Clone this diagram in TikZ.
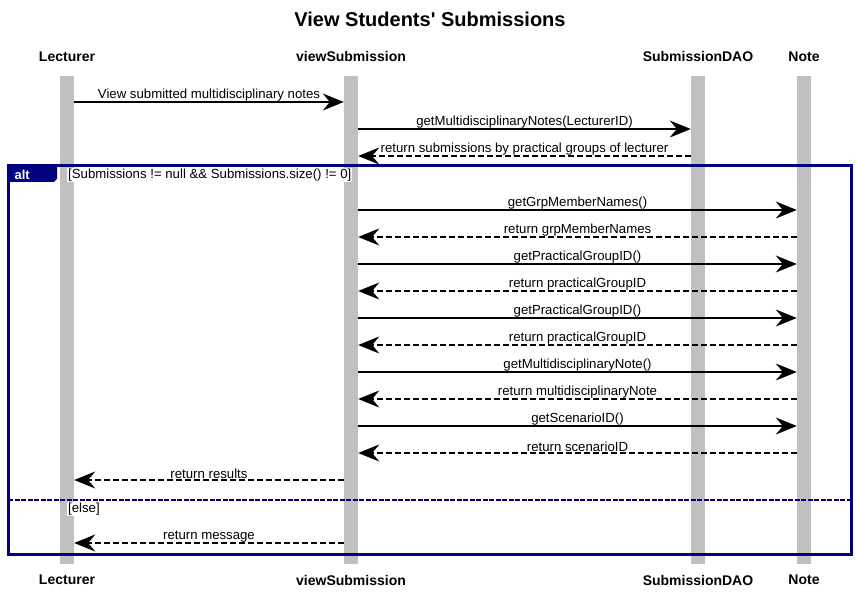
\documentclass[tikz,border=0pt]{standalone}
\usepackage{fontspec}
\setmainfont{Liberation Sans}
\newfontfamily\titlefont{Liberation Sans}
\usetikzlibrary{arrows.meta}

\definecolor{framenavy}{RGB}{0,0,128}
\definecolor{bargray}{RGB}{192,192,192}

\begin{document}
\begin{tikzpicture}[x=1pt,y=-1pt,
    actor/.style={font=\fontsize{14}{16}\selectfont\bfseries},
    lifebar/.style={fill=bargray,draw=none,minimum width=14pt,minimum height=488pt,inner sep=0pt},
    call/.style={line width=1.5pt,-{Stealth[length=21pt,width=17pt,inset=7pt]}},
    reply/.style={call,dash pattern=on 6pt off 3pt},
    msg/.style={font=\fontsize{13.2}{15}\selectfont,inner sep=0.5pt,above},
    guard/.style={font=\fontsize{13.2}{15}\selectfont,fill=white,inner sep=1pt,anchor=west}]
      \useasboundingbox (0,0) rectangle (856,593);

      % Title
      \node[font=\titlefont\fontsize{20}{22}\selectfont\bfseries] (title) at (430,19) {View Students' Submissions};

      % Lifelines
      \node[lifebar] (lecbar) at (67,320) {};
      \node[lifebar] (vsbar) at (351,320) {};
      \node[lifebar] (daobar) at (698,320) {};
      \node[lifebar] (notebar) at (804,320) {};

      % Actors (top and bottom)
      \node[actor] (lec) at (67,57) {Lecturer};
      \node[actor] (vs) at (351,57) {viewSubmission};
      \node[actor] (dao) at (698,57) {SubmissionDAO};
      \node[actor] (note) at (804,57) {Note};
      \node[actor] (lecB) at (67,580) {Lecturer};
      \node[actor] (vsB) at (351,580) {viewSubmission};
      \node[actor] (daoB) at (698,580) {SubmissionDAO};
      \node[actor] (noteB) at (804,580) {Note};

      % Before the alt fragment
      \draw[call] (lecbar.east |- 0,102) -- node[msg] {View submitted multidisciplinary notes} (vsbar.west |- 0,102);
      \draw[call] (vsbar.east |- 0,129) -- node[msg] {getMultidisciplinaryNotes(LecturerID)} (daobar.west |- 0,129);
      \draw[reply] (daobar.west |- 0,156) -- node[msg] {return submissions by practical groups of lecturer} (vsbar.east |- 0,156);

      % Alt fragment
      \draw[framenavy,line width=3pt] (8,166) rectangle (851,554);
      \fill[framenavy] (8,166) -- (57,166) -- (57,179) -- (54,182) -- (8,182) -- cycle;
      \node[font=\fontsize{13}{14}\selectfont\bfseries,text=white,anchor=west] (alt) at (11,175) {alt};
      \node[guard] (cond) at (67,175) {[Submissions != null \&\& Submissions.size() != 0]};
      \draw[framenavy,line width=2.2pt,dash pattern=on 5pt off 1.5pt] (8,500) -- (851,500);
      \node[guard] (else) at (67,509) {[else]};

      % Calls to Note
      \draw[call] (vsbar.east |- 0,210) -- node[msg] {getGrpMemberNames()} (notebar.west |- 0,210);
      \draw[reply] (notebar.west |- 0,237) -- node[msg] {return grpMemberNames} (vsbar.east |- 0,237);
      \draw[call] (vsbar.east |- 0,264) -- node[msg] {getPracticalGroupID()} (notebar.west |- 0,264);
      \draw[reply] (notebar.west |- 0,291) -- node[msg] {return practicalGroupID} (vsbar.east |- 0,291);
      \draw[call] (vsbar.east |- 0,318) -- node[msg] {getPracticalGroupID()} (notebar.west |- 0,318);
      \draw[reply] (notebar.west |- 0,345) -- node[msg] {return practicalGroupID} (vsbar.east |- 0,345);
      \draw[call] (vsbar.east |- 0,372) -- node[msg] {getMultidisciplinaryNote()} (notebar.west |- 0,372);
      \draw[reply] (notebar.west |- 0,399) -- node[msg] {return multidisciplinaryNote} (vsbar.east |- 0,399);
      \draw[call] (vsbar.east |- 0,426) -- node[msg] {getScenarioID()} (notebar.west |- 0,426);
      \draw[reply] (notebar.west |- 0,453) -- node[msg] {return scenarioID} (vsbar.east |- 0,453);

      % Back to the lecturer
      \draw[reply] (vsbar.west |- 0,480) -- node[msg] {return results} (lecbar.east |- 0,480);
      \draw[reply] (vsbar.west |- 0,543) -- node[msg] {return message} (lecbar.east |- 0,543);
\end{tikzpicture}
\end{document}
